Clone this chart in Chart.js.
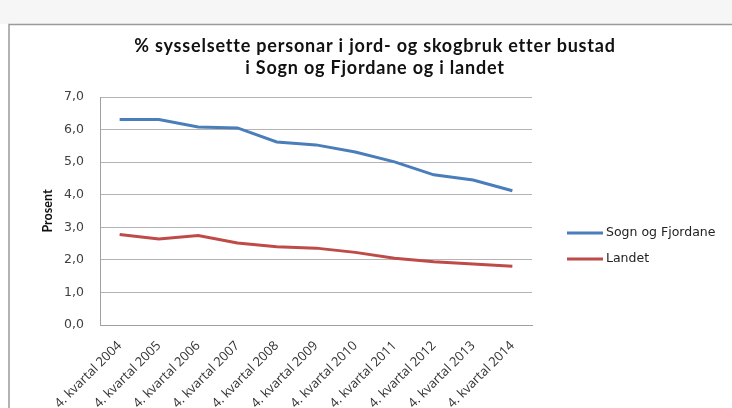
<!DOCTYPE html>
<html>
<head>
<meta charset="utf-8">
<script src="https://cdn.jsdelivr.net/npm/chart.js@4.4.1/dist/chart.umd.min.js"></script>
<style>
  html, body { margin: 0; padding: 0; background: #ffffff; }
  #wrap { position: relative; width: 732px; height: 408px; }
</style>
</head>
<body>
<div id="wrap"><canvas id="c" width="732" height="408"></canvas></div>
<script>
const categories = ['4. kvartal 2004','4. kvartal 2005','4. kvartal 2006','4. kvartal 2007','4. kvartal 2008','4. kvartal 2009','4. kvartal 2010','4. kvartal 2011','4. kvartal 2012','4. kvartal 2013','4. kvartal 2014'];
const sognOgFjordane = [6.31, 6.31, 6.08, 6.05, 5.62, 5.53, 5.31, 5.01, 4.61, 4.45, 4.12];
const landet = [2.78, 2.64, 2.75, 2.52, 2.40, 2.36, 2.23, 2.05, 1.94, 1.87, 1.80];
const seriesNames = ['Sogn og Fjordane', 'Landet'];
const titleLines = ['% sysselsette personar i jord- og skogbruk etter bustad', 'i Sogn og Fjordane og i landet'];
const yAxisTitle = 'Prosent';

const frame = {
  id: 'frame',
  beforeDraw(chart) {
    const ctx = chart.ctx;
    ctx.save();
    ctx.fillStyle = '#f6f6f6';
    ctx.fillRect(0, 0, 732, 24);
    ctx.fillStyle = '#ffffff';
    ctx.fillRect(9, 24, 723, 384);
    ctx.strokeStyle = '#9a9a9a';
    ctx.lineWidth = 1.5;
    ctx.beginPath();
    ctx.moveTo(9, 408);
    ctx.lineTo(9, 24.5);
    ctx.lineTo(732, 24.5);
    ctx.stroke();
    ctx.restore();
  }
};

const titleAndLegend = {
  id: 'titleAndLegend',
  afterDraw(chart) {
    const ctx = chart.ctx;
    ctx.save();
    // title
    ctx.fillStyle = '#111111';
    ctx.font = 'bold 18px Lato';
    if ('letterSpacing' in ctx) ctx.letterSpacing = '0.8px';
    ctx.textAlign = 'center';
    ctx.textBaseline = 'middle';
    ctx.fillText(titleLines[0], 375, 46);
    ctx.fillText(titleLines[1], 375, 68);
    if ('letterSpacing' in ctx) ctx.letterSpacing = '0px';
    // legend
    const ys = [233, 259];
    chart.data.datasets.forEach((ds, i) => {
      ctx.strokeStyle = ds.borderColor;
      ctx.lineWidth = 3;
      ctx.beginPath();
      ctx.moveTo(567, ys[i]);
      ctx.lineTo(603, ys[i]);
      ctx.stroke();
      ctx.fillStyle = '#222222';
      ctx.font = '12.5px "DejaVu Sans"';
      ctx.textBaseline = 'middle';
      ctx.textAlign = 'left';
      ctx.fillText(ds.label, 606, ys[i]);
    });
    ctx.restore();
  }
};

new Chart(document.getElementById('c'), {
  type: 'line',
  data: {
    labels: categories,
    datasets: [
      { label: seriesNames[0], data: sognOgFjordane, borderColor: '#4a7ebb', backgroundColor: '#4a7ebb', borderWidth: 3, pointRadius: 0, tension: 0 },
      { label: seriesNames[1], data: landet, borderColor: '#be4b48', backgroundColor: '#be4b48', borderWidth: 3, pointRadius: 0, tension: 0 }
    ]
  },
  options: {
    responsive: false,
    animation: false,
    layout: { padding: { left: 36, right: 200, top: 97, bottom: 0 } },
    plugins: {
      legend: { display: false },
      tooltip: { enabled: false },
      title: { display: false }
    },
    scales: {
      x: {
        offset: true,
        grid: { display: false, drawTicks: false, offset: true },
        border: { display: true, color: '#a0a0a0', width: 1 },
        afterFit(scale) { scale.height = 83; },
        ticks: {
          autoSkip: false,
          maxRotation: 45,
          minRotation: 45,
          padding: 13,
          color: '#333333',
          font: { family: 'Open Sans', size: 13 }
        }
      },
      y: {
        min: 0,
        max: 7,
        afterFit(scale) { scale.width = 64; },
        grid: { color: '#b4b4b4', lineWidth: 1, drawTicks: false },
        border: { display: true, color: '#a0a0a0', width: 1 },
        ticks: {
          stepSize: 1,
          padding: 16,
          color: '#404040',
          font: { family: 'DejaVu Sans', size: 12.5 },
          callback: (v) => v.toFixed(1).replace('.', ',')
        },
        title: {
          display: true,
          text: yAxisTitle,
          color: '#111111',
          font: { family: 'Lato', size: 12.5, weight: 'bold' },
          padding: { top: 4, bottom: 4 }
        }
      }
    }
  },
  plugins: [frame, titleAndLegend]
});
</script>
</body>
</html>
